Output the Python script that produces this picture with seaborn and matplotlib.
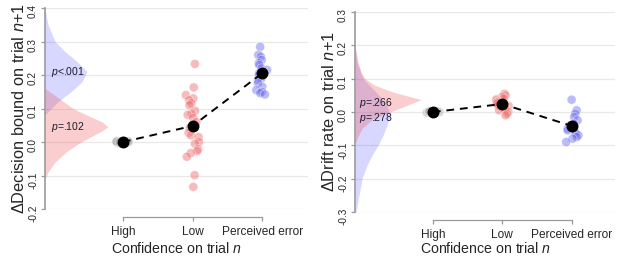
import numpy as np
import pandas as pd
import matplotlib
matplotlib.use('Agg')
import matplotlib.pyplot as plt
import seaborn as sns

# =========================
# DATA
# =========================
conditions = ['High', 'Low', 'Perceived error']

# --- left panel: change in decision bound on trial n+1 ---
bound_high = [0.003, -0.002, 0.001, 0.0, -0.001, 0.002, -0.003, 0.001,
              0.0, -0.002, 0.002, 0.0, 0.001, -0.001]
bound_low = [0.233, 0.163, 0.14, 0.13, 0.125, 0.116, 0.11, 0.093, 0.085,
             0.081, 0.072, 0.06, 0.042, 0.027, 0.02, 0.015, 0.0, -0.005,
             -0.021, -0.027, -0.033, -0.044, -0.099, -0.134]
bound_error = [0.284, 0.26, 0.255, 0.245, 0.236, 0.23, 0.22, 0.215, 0.21,
               0.205, 0.2, 0.19, 0.185, 0.176, 0.165, 0.155, 0.15, 0.146,
               0.142]
bound_means = [0.0, 0.048, 0.205]

# posterior densities (value, relative height)
bound_error_post_y = [0.40, 0.35, 0.30, 0.27, 0.24, 0.21, 0.18, 0.15, 0.12,
                      0.10, 0.08]
bound_error_post_d = [0.0, 0.3, 1.0, 2.0, 3.2, 4.2, 3.7, 2.6, 1.3, 0.6, 0.0]
bound_low_post_y = [0.16, 0.13, 0.10, 0.08, 0.06, 0.045, 0.03, 0.0, -0.03,
                    -0.06, -0.09, -0.11]
bound_low_post_d = [0.0, 1.4, 2.8, 4.2, 5.7, 6.3, 5.5, 3.6, 2.1, 1.0, 0.3, 0.0]
bound_pvals = ['<.001', '=.102']          # error, low
bound_pval_y = [0.21, 0.045]

# --- right panel: change in drift rate on trial n+1 ---
drift_high = [0.003, -0.002, 0.001, 0.0, -0.001, 0.002, -0.003, 0.001,
              0.0, -0.002, 0.002, 0.0, 0.001, -0.001]
drift_low = [0.055, 0.05, 0.045, 0.04, 0.038, 0.035, 0.032, 0.03, 0.028,
             0.025, 0.022, 0.02, 0.018, 0.015, 0.012, 0.01, 0.005, 0.0,
             -0.005, -0.01]
drift_error = [0.037, 0.005, -0.005, -0.015, -0.025, -0.035, -0.04, -0.045,
               -0.05, -0.055, -0.06, -0.065, -0.07, -0.075, -0.08, -0.09]
drift_means = [0.0, 0.024, -0.042]

drift_low_post_y = [0.20, 0.15, 0.12, 0.10, 0.08, 0.06, 0.037, 0.02, 0.0,
                    -0.02, -0.05, -0.08, -0.10]
drift_low_post_d = [0.0, 0.3, 0.6, 1.0, 2.0, 3.8, 6.6, 5.2, 3.5, 1.8, 0.7,
                    0.2, 0.0]
drift_error_post_y = [0.20, 0.15, 0.10, 0.05, 0.02, -0.01, -0.04, -0.07,
                      -0.10, -0.13, -0.16, -0.20, -0.25, -0.30]
drift_error_post_d = [0.0, 0.2, 0.8, 2.4, 3.2, 3.5, 3.2, 2.8, 2.3, 1.7, 1.2,
                      0.7, 0.4, 0.1]
drift_pvals = ['=.266', '=.278']          # low, error
drift_pval_y = [0.028, -0.018]

# =========================
# STYLE
# =========================
sns.set_style('white')
plt.rcParams['font.family'] = ['Liberation Sans', 'DejaVu Sans']
plt.rcParams['mathtext.fontset'] = 'custom'
plt.rcParams['mathtext.rm'] = 'Liberation Sans'
plt.rcParams['mathtext.it'] = 'Liberation Sans:italic'

palette = {'High': '#a8a8a8', 'Low': '#ee6a6a', 'Perceived error': '#6a6aee'}
red_fill = '#f05050'
blue_fill = '#6060ff'
spine_col = '#9a9a9a'
grid_col = '#e8e8e8'
dens_scale = 10 / 69.5      # relative height -> x data units
x_left = -1.12

np.random.seed(3)

fig = plt.figure(figsize=(6.17, 2.56), dpi=100)


def panel(ax, high, low, error, means, ylim, yticks, ylabel, xright,
          xlabelpad):
    df = pd.DataFrame({
        'condition': ['High'] * len(high) + ['Low'] * len(low)
                     + ['Perceived error'] * len(error),
        'value': high + low + error,
    })
    for yt in yticks:
        ax.axhline(yt, color=grid_col, lw=0.9, zorder=0)
    sns.stripplot(data=df, x='condition', y='value', hue='condition',
                  order=conditions, palette=palette, legend=False,
                  jitter=0.1, size=6.5, alpha=0.45,
                  edgecolor='white', linewidth=0.6, ax=ax, zorder=3)
    n_before = len(ax.lines)
    sns.pointplot(x=conditions, y=means, order=conditions, color='black',
                  linestyle='--', linewidth=1.4, markersize=7.5,
                  errorbar=None, ax=ax)
    for ln in ax.lines[n_before:]:
        ln.set_dashes((4, 3))
        ln.set_zorder(5)
    ax.set_xlim(x_left, xright)
    ax.set_ylim(*ylim)
    ax.set_yticks(yticks)
    ax.set_yticklabels([f'{t:.1f}' for t in yticks])
    ax.tick_params(axis='y', left=True, labelrotation=90, length=3,
                   width=0.9, color=spine_col, labelsize=7.2, pad=2)
    ax.tick_params(axis='x', bottom=True, length=3, width=0.9,
                   color=spine_col, labelsize=8.6, pad=3)
    for side in ['top', 'right']:
        ax.spines[side].set_visible(False)
    ax.spines['left'].set_color(spine_col)
    ax.spines['left'].set_linewidth(1.2)
    ax.spines['bottom'].set_color(spine_col)
    ax.spines['bottom'].set_linewidth(0.9)
    ax.spines['bottom'].set_position(('outward', 6))
    ax.spines['bottom'].set_bounds(0, 2)
    ax.set_xlabel(r'Confidence on trial $\mathit{n}$', fontsize=10.2,
                  labelpad=xlabelpad)
    ax.set_ylabel(ylabel, fontsize=11.8, labelpad=1)


def density(ax, ys, ds, color, alpha):
    ax.fill_betweenx(ys, x_left, x_left + np.array(ds) * dens_scale,
                     color=color, alpha=alpha, lw=0, zorder=1)


# ---- left panel ----
ax1 = fig.add_axes([45 / 617, 47 / 256, 263 / 617, 201 / 256])
panel(ax1, bound_high, bound_low, bound_error, bound_means,
      (-0.2, 0.4), [-0.2, -0.1, 0.0, 0.1, 0.2, 0.3, 0.4],
      r'ΔDecision bound on trial $\mathit{n{+}1}$', 2.66, 2.5)
density(ax1, bound_error_post_y, bound_error_post_d, blue_fill, 0.25)
density(ax1, bound_low_post_y, bound_low_post_d, red_fill, 0.28)
for pv, yv in zip(bound_pvals, bound_pval_y):
    ax1.text(x_left + 0.08, yv, r'$p$' + pv, fontsize=7.5, va='center',
             color='#1c1c30', zorder=6)

# ---- right panel ----
ax2 = fig.add_axes([355 / 617, 44 / 256, 260 / 617, 200 / 256])
panel(ax2, drift_high, drift_low, drift_error, drift_means,
      (-0.3, 0.3), [-0.3, -0.2, -0.1, 0.0, 0.1, 0.2, 0.3],
      r'ΔDrift rate on trial $\mathit{n{+}1}$', 2.62, 0.5)
density(ax2, drift_error_post_y, drift_error_post_d, blue_fill, 0.25)
density(ax2, drift_low_post_y, drift_low_post_d, red_fill, 0.28)
for pv, yv in zip(drift_pvals, drift_pval_y):
    ax2.text(x_left + 0.06, yv, r'$p$' + pv, fontsize=7.5, va='center',
             color='#1c1c30', zorder=6)

fig.savefig('out.png', dpi=100)
